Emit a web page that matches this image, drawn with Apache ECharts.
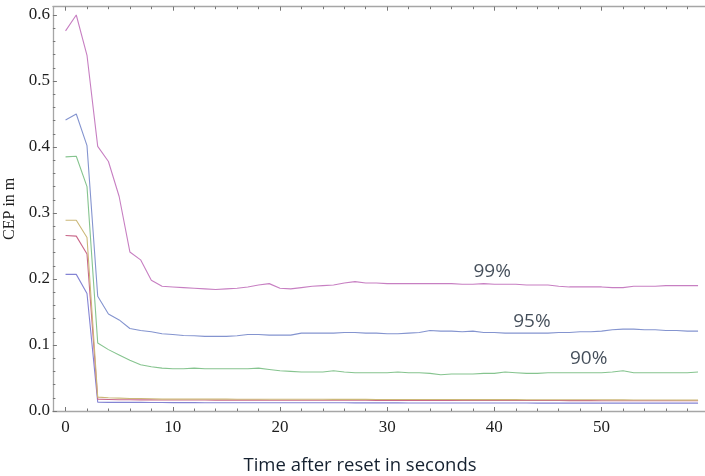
<!DOCTYPE html>
<html>
<head>
<meta charset="utf-8">
<script src="https://cdn.jsdelivr.net/npm/echarts@6/dist/echarts.min.js"></script>
<style>
  html, body { margin: 0; padding: 0; background: #fff; }
  #chart { width: 705px; height: 476px; }
</style>
</head>
<body>
<div id="chart"></div>
<script>
// Seconds after reset (one sample per second)
const seconds = [];
for (let s = 0; s <= 59; s++) seconds.push(s);

// CEP percentile curves, metres
const cepLow = [0.207, 0.207, 0.178, 0.0135, 0.013, 0.013, 0.013, 0.013, 0.0128, 0.0128, 0.0127,
  0.0127, 0.0127, 0.0126, 0.0126, 0.0126, 0.0126, 0.0125, 0.0125, 0.0125, 0.0125,
  0.0125, 0.0124, 0.0124, 0.0124, 0.0124, 0.0124, 0.0123, 0.0123, 0.0123, 0.0123,
  0.0123, 0.0122, 0.0122, 0.0122, 0.0122, 0.0122, 0.0122, 0.0121, 0.0121, 0.0121,
  0.0121, 0.0121, 0.0121, 0.012, 0.012, 0.012, 0.012, 0.012, 0.012, 0.012,
  0.012, 0.012, 0.012, 0.012, 0.012, 0.012, 0.012, 0.012, 0.012];
const cepRed = [0.266, 0.265, 0.238, 0.018, 0.0175, 0.017, 0.017, 0.0168, 0.0168, 0.0167, 0.0167,
  0.0166, 0.0166, 0.0166, 0.0165, 0.0165, 0.0165, 0.0165, 0.0165, 0.0164, 0.0164,
  0.0164, 0.0163, 0.0163, 0.0163, 0.0162, 0.0162, 0.0162, 0.0162, 0.0161, 0.0161,
  0.0161, 0.0161, 0.016, 0.016, 0.016, 0.016, 0.016, 0.016, 0.016, 0.016,
  0.0159, 0.0159, 0.0159, 0.0158, 0.0158, 0.0158, 0.0157, 0.0157, 0.0157, 0.0156,
  0.0156, 0.0156, 0.0156, 0.0155, 0.0155, 0.0155, 0.0155, 0.0155, 0.0155];
const cepOlive = [0.289, 0.289, 0.263, 0.021, 0.020, 0.0195, 0.019, 0.019, 0.0185, 0.018, 0.018,
  0.018, 0.018, 0.018, 0.018, 0.018, 0.0179, 0.0179, 0.0179, 0.0178, 0.0178,
  0.0178, 0.0177, 0.0177, 0.0177, 0.0176, 0.0176, 0.0176, 0.0176, 0.0175, 0.0175,
  0.0175, 0.0175, 0.0175, 0.0174, 0.0174, 0.0174, 0.0173, 0.0173, 0.0173, 0.0172,
  0.0172, 0.0172, 0.0171, 0.0171, 0.0171, 0.017, 0.017, 0.017, 0.017, 0.017,
  0.0168, 0.0168, 0.0167, 0.0167, 0.0166, 0.0166, 0.0165, 0.0165, 0.0165];
const cep90 = [0.385, 0.386, 0.340, 0.103, 0.093, 0.085, 0.077, 0.070, 0.067, 0.065, 0.064,
  0.064, 0.065, 0.064, 0.064, 0.064, 0.064, 0.064, 0.065, 0.063, 0.061,
  0.060, 0.059, 0.059, 0.059, 0.061, 0.059, 0.058, 0.058, 0.058, 0.058,
  0.059, 0.058, 0.058, 0.057, 0.055, 0.056, 0.056, 0.056, 0.057, 0.057,
  0.059, 0.058, 0.057, 0.057, 0.058, 0.058, 0.058, 0.058, 0.058, 0.058,
  0.059, 0.061, 0.058, 0.058, 0.058, 0.058, 0.058, 0.058, 0.059];
const cep95 = [0.441, 0.450, 0.402, 0.174, 0.147, 0.138, 0.125, 0.122, 0.120, 0.117, 0.116,
  0.1145, 0.114, 0.113, 0.113, 0.113, 0.114, 0.116, 0.116, 0.115, 0.115,
  0.115, 0.118, 0.118, 0.118, 0.118, 0.119, 0.119, 0.118, 0.118, 0.117,
  0.117, 0.118, 0.119, 0.122, 0.121, 0.121, 0.120, 0.121, 0.119, 0.119,
  0.118, 0.118, 0.118, 0.118, 0.118, 0.119, 0.119, 0.120, 0.120, 0.121,
  0.123, 0.124, 0.124, 0.123, 0.123, 0.122, 0.122, 0.121, 0.121];
const cep99 = [0.576, 0.600, 0.539, 0.401, 0.378, 0.325, 0.241, 0.229, 0.198, 0.189, 0.188,
  0.187, 0.186, 0.185, 0.184, 0.185, 0.186, 0.188, 0.191, 0.193, 0.186,
  0.185, 0.187, 0.189, 0.190, 0.191, 0.194, 0.196, 0.194, 0.194, 0.193,
  0.193, 0.193, 0.193, 0.193, 0.193, 0.193, 0.192, 0.192, 0.193, 0.192,
  0.192, 0.192, 0.191, 0.191, 0.191, 0.189, 0.188, 0.188, 0.188, 0.188,
  0.187, 0.187, 0.189, 0.189, 0.189, 0.190, 0.190, 0.190, 0.190];

// Curve annotations
const noteTexts = ['99%', '95%', '90%'];
const noteX = [39.8, 43.5, 48.8];
const noteY = [0.211, 0.135, 0.080];

// Tick positions
const xMajor = [0, 10, 20, 30, 40, 50];
const xMinor = [2, 4, 6, 8, 12, 14, 16, 18, 22, 24, 26, 28, 32, 34, 36, 38, 42, 44, 46, 48, 52, 54, 56, 58, 60];
const yMajor = [0, 0.1, 0.2, 0.3, 0.4, 0.5, 0.6];
const yMinor = [0.02, 0.04, 0.06, 0.08, 0.12, 0.14, 0.16, 0.18, 0.22, 0.24, 0.26, 0.28,
  0.32, 0.34, 0.36, 0.38, 0.42, 0.44, 0.46, 0.48, 0.52, 0.54, 0.56, 0.58];

const X_MIN = -1.18, X_MAX = 60.18, Y_MIN = 0, Y_MAX = 0.6126;
const frameColor = '#a6a6a6';
const tickColor = '#777';
const serif = '"Liberation Serif", "DejaVu Serif", serif';
const inkSerif = '#1e1e1e';
const inkSans = '#14202f';

function xAxisDef(position, ticks, len, showLine, showLabels) {
  return {
    type: 'value', position: position, min: X_MIN, max: X_MAX,
    splitLine: { show: false },
    axisLine: { show: showLine, onZero: false, lineStyle: { color: frameColor, width: 1.3 } },
    axisTick: { show: true, inside: true, length: len, customValues: ticks,
      lineStyle: { color: tickColor, width: 1 } },
    axisLabel: { show: showLabels, customValues: ticks, margin: 8,
      color: inkSerif, fontFamily: serif, fontSize: 17 }
  };
}
function yAxisDef(ticks, len, showLine, showLabels, name) {
  return {
    type: 'value', position: 'left', min: Y_MIN, max: Y_MAX,
    name: name || '', nameLocation: 'middle', nameGap: 35, nameRotate: 90,
    nameTextStyle: { color: inkSerif, fontFamily: serif, fontSize: 16 },
    splitLine: { show: false },
    axisLine: { show: showLine, onZero: false, lineStyle: { color: frameColor, width: 1.3 } },
    axisTick: { show: true, inside: true, length: len, customValues: ticks,
      lineStyle: { color: tickColor, width: 1 } },
    axisLabel: { show: showLabels, customValues: ticks, margin: 3,
      color: inkSerif, fontFamily: serif, fontSize: 17,
      formatter: v => v.toFixed(1) }
  };
}

function lineSeries(name, values, color) {
  return {
    name: name, type: 'line', xAxisIndex: 0, yAxisIndex: 0,
    data: seconds.map((s, i) => [s, values[i]]),
    showSymbol: false, symbol: 'none', smooth: false,
    lineStyle: { color: color, width: 1.1 },
    itemStyle: { color: color },
    silent: true, animation: false
  };
}

const chart = echarts.init(document.getElementById('chart'), null, { renderer: 'canvas' });
chart.setOption({
  backgroundColor: '#ffffff',
  animation: false,
  grid: { left: 52.9, top: 6.7, width: 657.8, height: 404.3, containLabel: false, outerBoundsMode: 'none' },
  xAxis: [
    xAxisDef('bottom', xMajor, 4, true, true),
    xAxisDef('bottom', xMinor, 2.5, false, false),
    xAxisDef('top', xMajor, 4, true, false),
    xAxisDef('top', xMinor, 2.5, false, false)
  ],
  yAxis: [
    yAxisDef(yMajor, 4, true, true, 'CEP in m'),
    yAxisDef(yMinor, 2.5, false, false)
  ],
  graphic: [{
    type: 'text', x: 360, y: 466,
    style: { text: 'Time after reset in seconds', fill: inkSans,
      font: '18.5px "Open Sans", sans-serif', textAlign: 'center', textVerticalAlign: 'middle' }
  }],
  series: [
    lineSeries('low', cepLow, '#8484d4'),
    lineSeries('red', cepRed, '#c9688a'),
    lineSeries('olive', cepOlive, '#cbb878'),
    lineSeries('90%', cep90, '#86c48f'),
    lineSeries('95%', cep95, '#8494cf'),
    lineSeries('99%', cep99, '#c77fc2'),
    {
      type: 'scatter', xAxisIndex: 0, yAxisIndex: 0,
      data: noteTexts.map((t, i) => ({ value: [noteX[i], noteY[i]], name: t })),
      symbolSize: 0, silent: true,
      label: { show: true, position: 'inside', formatter: p => p.name,
        color: inkSans, fontFamily: '"Open Sans", sans-serif', fontSize: 19 }
    }
  ]
});
</script>
</body>
</html>
